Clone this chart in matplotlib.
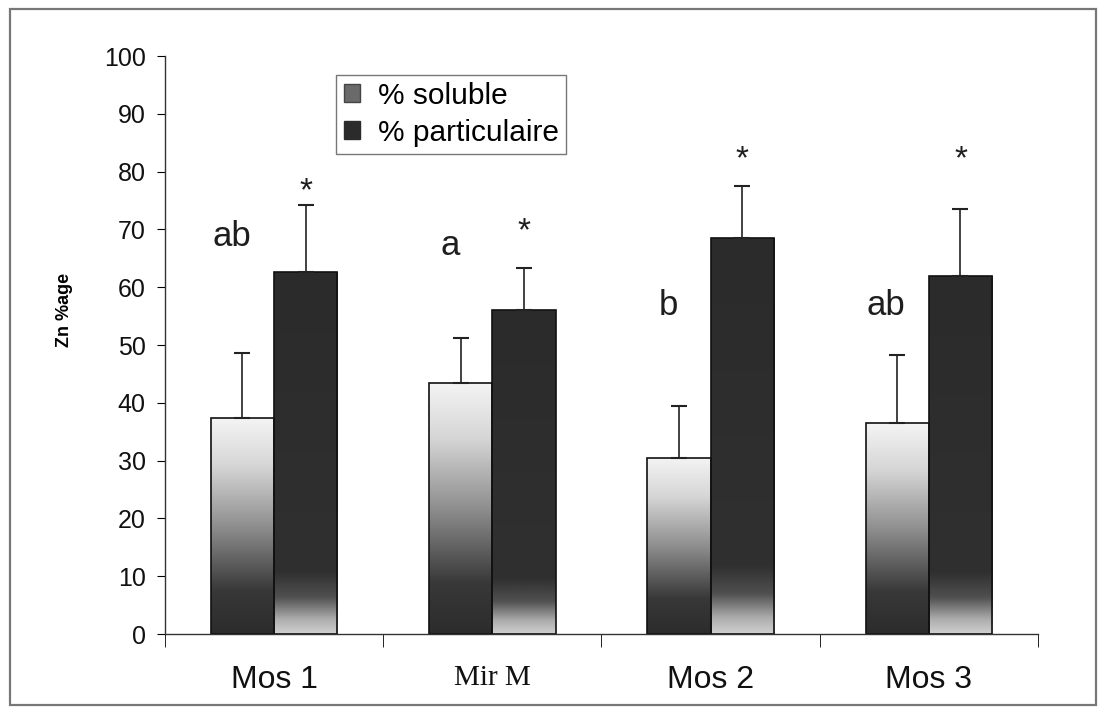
import matplotlib
matplotlib.use("Agg")
import matplotlib.pyplot as plt
import numpy as np
from matplotlib.colors import LinearSegmentedColormap
from matplotlib.patches import Patch, Rectangle

plt.rcParams["font.family"] = ["Liberation Sans", "DejaVu Sans"]

categories = ["Mos 1", "Mir M", "Mos 2", "Mos 3"]
soluble = [37.3, 43.5, 30.5, 36.5]
soluble_err = [11.3, 7.7, 9.0, 11.7]
particulaire = [62.7, 56.0, 68.5, 62.0]
particulaire_err = [11.6, 7.3, 9.0, 11.6]
letters = ["ab", "a", "b", "ab"]
letters_y = [68.7, 67.3, 56.9, 56.9]
stars_y = [76.5, 69.6, 82.0, 82.0]

# degrades facon Excel (bas -> haut)
cmap_sol = LinearSegmentedColormap.from_list("sol", [
    (0.0, "#2c2c2c"), (0.2, "#383838"), (0.5, "#8f8f8f"),
    (0.78, "#d6d6d6"), (1.0, "#f4f4f4")])
cmap_part = LinearSegmentedColormap.from_list("part", [
    (0.0, "#cfcfcf"), (0.04, "#acacac"), (0.1, "#505050"),
    (0.17, "#303030"), (1.0, "#2b2b2b")])

fig = plt.figure(figsize=(11, 7.1), dpi=100)
ax = fig.add_axes([0.15, 0.107, 0.7936, 0.814])

x = np.arange(len(categories))
w = 0.29

grad = np.linspace(1, 0, 256).reshape(-1, 1)


def fill_gradient(bars, cmap):
    for b in bars:
        x0, y0 = b.get_x(), b.get_y()
        im = ax.imshow(grad, cmap=cmap, vmin=0, vmax=1, aspect="auto",
                       extent=[x0, x0 + b.get_width(), y0, y0 + b.get_height()],
                       interpolation="bicubic", zorder=1)
        im.set_clip_path(b)


b1 = ax.bar(x - w / 2, soluble, w, facecolor="none", edgecolor="#111111",
            linewidth=1.2, zorder=2)
b2 = ax.bar(x + w / 2, particulaire, w, facecolor="none", edgecolor="#111111",
            linewidth=1.2, zorder=2)
fill_gradient(b1, cmap_sol)
fill_gradient(b2, cmap_part)

ax.errorbar(x - w / 2, soluble, yerr=[np.zeros(4), soluble_err], fmt="none",
            ecolor="#222222", elinewidth=1.2, capsize=6, capthick=1.5, zorder=3)
ax.errorbar(x + w / 2, particulaire, yerr=[np.zeros(4), particulaire_err],
            fmt="none", ecolor="#222222", elinewidth=1.2, capsize=6,
            capthick=1.5, zorder=3)

for i in range(len(categories)):
    ax.text(x[i] - w / 2 - 0.05, letters_y[i], letters[i], ha="center",
            va="center", fontsize=25, color="#1e1e1e")
    ax.text(x[i] + w / 2, stars_y[i], "*", ha="center", va="center",
            fontsize=24, color="#1e1e1e")

ax.set_xlim(-0.5, 3.5)
ax.set_ylim(0, 100)
ax.set_yticks(range(0, 101, 10))
ax.tick_params(axis="y", direction="out", length=6, labelsize=18, pad=8,
               labelcolor="#111111")

ax.set_xticks(x)
ax.set_xticklabels(categories)
ax.set_xticks(np.arange(-0.5, 4, 1), minor=True)
ax.tick_params(axis="x", which="major", length=0, labelsize=23, pad=22,
               labelcolor="#111111")
ax.tick_params(axis="x", which="minor", length=9, direction="out")
lab = ax.get_xticklabels()[1]
lab.set_family("Liberation Serif")
lab.set_fontsize(21)

for s in ["top", "right"]:
    ax.spines[s].set_visible(False)
for s in ["left", "bottom"]:
    ax.spines[s].set_color("#333333")
    ax.spines[s].set_linewidth(1.0)

ax.set_ylabel("Zn %age", fontsize=13, fontweight="bold")
ax.yaxis.set_label_coords(-0.105, 0.56)

handles = [Patch(facecolor="#6a6a6a", edgecolor="#444444"),
           Patch(facecolor="#2b2b2b", edgecolor="#2b2b2b")]
leg = ax.legend(handles, ["% soluble", "% particulaire"], loc="upper left",
                bbox_to_anchor=(0.196, 0.968), borderaxespad=0, fontsize=21.5,
                handlelength=0.55, handleheight=0.55, handletextpad=0.6,
                fancybox=False, framealpha=1, edgecolor="#777777",
                borderpad=0.25, labelspacing=0.3)
leg.get_frame().set_linewidth(1.0)

# cadre exterieur
fig.patches.append(Rectangle((0.009, 0.007), 0.987, 0.98, transform=fig.transFigure,
                             fill=False, edgecolor="#777777", linewidth=1.6))

fig.savefig("out.png", dpi=100)
